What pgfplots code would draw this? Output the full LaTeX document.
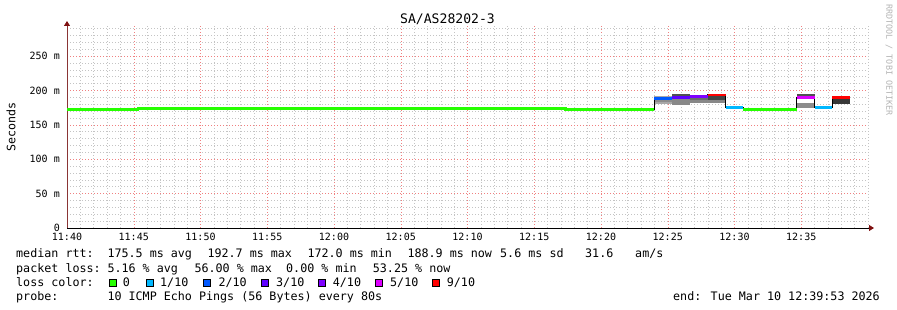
\documentclass[border=0pt]{standalone}
\usepackage{fontspec}
\setmainfont{DejaVu Sans Mono}
\usepackage{pgfplots}
\pgfplotsset{compat=1.18}
\usetikzlibrary{arrows.meta}
\definecolor{l0}{HTML}{26FF00}
\definecolor{l1}{HTML}{00B8FF}
\definecolor{l2}{HTML}{0059FF}
\definecolor{l3}{HTML}{5E00FF}
\definecolor{l4}{HTML}{7E00FF}
\definecolor{l5}{HTML}{DD00FF}
\definecolor{l9}{HTML}{FF0000}
\definecolor{mgrid}{HTML}{F08080}
\definecolor{ngrid}{HTML}{C4C4C4}
\definecolor{arrowred}{HTML}{7F1010}
\definecolor{yaxisc}{HTML}{8A3535}
\definecolor{wm}{HTML}{B4B4B4}
\begin{document}
\begin{tikzpicture}
\useasboundingbox (0,0) rectangle (897pt,310pt);
\begin{axis}[
  at={(67pt,82pt)}, anchor=south west,
  scale only axis, width=801pt, height=202pt,
  xmin=0, xmax=60, ymin=0, ymax=293.6,
  axis lines=left,
  x axis line style={black, line width=0.8pt, shorten >=-6pt, -{Triangle[length=5pt,width=6pt,color=arrowred]}},
  y axis line style={yaxisc, line width=0.8pt, shorten >=-5pt, -{Triangle[length=5pt,width=6pt,color=arrowred]}},
  xtick={0,5,...,55},
  xticklabels={11:40,11:45,11:50,11:55,12:00,12:05,12:10,12:15,12:20,12:25,12:30,12:35},
  minor xtick={1,2,3,4,6,7,8,9,11,12,13,14,16,17,18,19,21,22,23,24,26,27,28,29,31,32,33,34,36,37,38,39,41,42,43,44,46,47,48,49,51,52,53,54,56,57,58,59,60},
  ytick={0,50,...,250},
  yticklabels={0,50 m,100 m,150 m,200 m,250 m},
  minor ytick={10,20,30,40,60,70,80,90,110,120,130,140,160,170,180,190,210,220,230,240,260,270,280,290},
  grid=both,
  major grid style={mgrid, line width=0.5pt, dash pattern=on 1pt off 2pt},
  minor grid style={ngrid, line width=0.5pt, dash pattern=on 1pt off 2pt},
  major tick length=0pt, minor tick length=0pt,
  tick label style={font=\fontsize{10}{12}\selectfont, inner sep=0pt},
  xticklabel style={anchor=north, yshift=-5pt},
  yticklabel style={anchor=east, xshift=-7pt},
]
% smoke
\addplot[fill={rgb,255:red,168;green,168;blue,168}, draw=none] coordinates {(44,180.2) (44,191.9) (45.333,191.9) (45.333,180.2)} --cycle;
\addplot[fill={rgb,255:red,140;green,140;blue,140}, draw=none] coordinates {(44,183.5) (44,188) (45.333,188) (45.333,183.5)} --cycle;
\addplot[fill={rgb,255:red,136;green,136;blue,136}, draw=none] coordinates {(45.333,179.2) (45.333,195.2) (46.667,195.2) (46.667,179.2)} --cycle;
\addplot[fill={rgb,255:red,80;green,80;blue,80}, draw=none] coordinates {(45.333,190.4) (45.333,195.2) (46.667,195.2) (46.667,190.4)} --cycle;
\addplot[fill={rgb,255:red,136;green,136;blue,136}, draw=none] coordinates {(46.667,181) (46.667,193.8) (48,193.8) (48,181)} --cycle;
\addplot[fill={rgb,255:red,106;green,106;blue,106}, draw=none] coordinates {(46.667,186) (46.667,193) (48,193) (48,186)} --cycle;
\addplot[fill={rgb,255:red,136;green,136;blue,136}, draw=none] coordinates {(48,182) (48,194.5) (49.333,194.5) (49.333,182)} --cycle;
\addplot[fill={rgb,255:red,68;green,68;blue,68}, draw=none] coordinates {(48,186) (48,193) (49.333,193) (49.333,186)} --cycle;
\addplot[fill={rgb,255:red,140;green,140;blue,140}, draw=none] coordinates {(54.667,174.6) (54.667,195.2) (56,195.2) (56,174.6)} --cycle;
\addplot[fill=white, draw=none] coordinates {(54.667,182) (54.667,189) (56,189) (56,182)} --cycle;
\addplot[fill={rgb,255:red,80;green,80;blue,80}, draw=none] coordinates {(54.667,190) (54.667,195.2) (56,195.2) (56,190)} --cycle;
\addplot[fill={rgb,255:red,56;green,56;blue,56}, draw=none] coordinates {(57.333,180) (57.333,191.5) (58.667,191.5) (58.667,180)} --cycle;
% median outline
\addplot[black, line width=1.2pt, const plot, mark=none] coordinates {(0,172.3) (5.333,174.0) (37.333,172.3) (44,188.3) (45.333,190.0) (46.667,191.2) (48,193.5) (49.333,175.0) (50.667,172.3) (54.667,189.7) (56,175.0) (57.333,190.0) (58.667,190.0)};
% median by loss colour
\addplot[l0, line width=2.5pt, const plot, mark=none] coordinates {(0,172.3) (5.333,174.0) (37.333,172.3) (44,172.3)};
\addplot[l2, line width=2.5pt, mark=none] coordinates {(44,188.3) (45.333,188.3)};
\addplot[l3, line width=2.5pt, mark=none] coordinates {(45.333,190.0) (46.667,190.0)};
\addplot[l4, line width=2.5pt, mark=none] coordinates {(46.667,191.2) (48,191.2)};
\addplot[l9, line width=2.5pt, mark=none] coordinates {(48,193.5) (49.333,193.5)};
\addplot[l1, line width=2.5pt, mark=none] coordinates {(49.333,175.0) (50.667,175.0)};
\addplot[l0, line width=2.5pt, mark=none] coordinates {(50.667,172.3) (54.667,172.3)};
\addplot[l5, line width=2.5pt, mark=none] coordinates {(54.667,189.7) (56,189.7)};
\addplot[l1, line width=2.5pt, mark=none] coordinates {(56,175.0) (57.333,175.0)};
\addplot[l9, line width=2.5pt, mark=none] coordinates {(57.333,190.0) (58.667,190.0)};
\end{axis}
% title and labels
\node[anchor=base, inner sep=0pt, font=\fontsize{13.1}{15}\selectfont] at (447.5pt,286pt) {SA/AS28202-3};
\node[rotate=90, inner sep=0pt, font=\fontsize{11.6}{14}\selectfont] at (11pt,183pt) {Seconds};
\node[rotate=-90, inner sep=0pt, text=wm, font=\fontsize{8.4}{10}\selectfont] at (889pt,250pt) {RRDTOOL / TOBI OETIKER};
% legend lines
\begin{scope}[every node/.style={anchor=base west, inner sep=0pt, font=\fontsize{11.7}{14}\selectfont}]
\node at (16pt,52pt) {median rtt:};
\node at (107.3pt,52pt) {175.5 ms avg};
\node at (207.3pt,52pt) {192.7 ms max};
\node at (307.3pt,52pt) {172.0 ms min};
\node at (407.3pt,52pt) {188.9 ms now};
\node at (500pt,52pt) {5.6 ms sd};
\node at (585pt,52pt) {31.6};
\node at (635pt,52pt) {am/s};
\node at (16pt,37.7pt) {packet loss:};
\node at (107.3pt,37.7pt) {5.16 \% avg};
\node at (194.3pt,37.7pt) {56.00 \% max};
\node at (286pt,37.7pt) {0.00 \% min};
\node at (372.7pt,37.7pt) {53.25 \% now};
\node at (16pt,23.3pt) {loss color:};
\node at (122.7pt,23.3pt) {0};
\node at (160pt,23.3pt) {1/10};
\node at (218.3pt,23.3pt) {2/10};
\node at (276pt,23.3pt) {3/10};
\node at (332.7pt,23.3pt) {4/10};
\node at (390pt,23.3pt) {5/10};
\node at (446.7pt,23.3pt) {9/10};
\node at (16pt,9pt) {probe:};
\node at (107.3pt,9pt) {10 ICMP Echo Pings (56 Bytes) every 80s};
\node[anchor=base east] at (880pt,9pt) {end: Tue Mar 10 12:39:53 2026};
\end{scope}
\begin{scope}[every node/.style={draw=black, line width=0.6pt, minimum size=7.5pt, inner sep=0pt}]
\node[fill=l0] at (112.7pt,27.2pt) {};
\node[fill=l1] at (149.7pt,27.2pt) {};
\node[fill=l2] at (206.7pt,27.2pt) {};
\node[fill=l3] at (264.7pt,27.2pt) {};
\node[fill=l4] at (321.7pt,27.2pt) {};
\node[fill=l5] at (378.7pt,27.2pt) {};
\node[fill=l9] at (435.7pt,27.2pt) {};
\end{scope}
\end{tikzpicture}
\end{document}
